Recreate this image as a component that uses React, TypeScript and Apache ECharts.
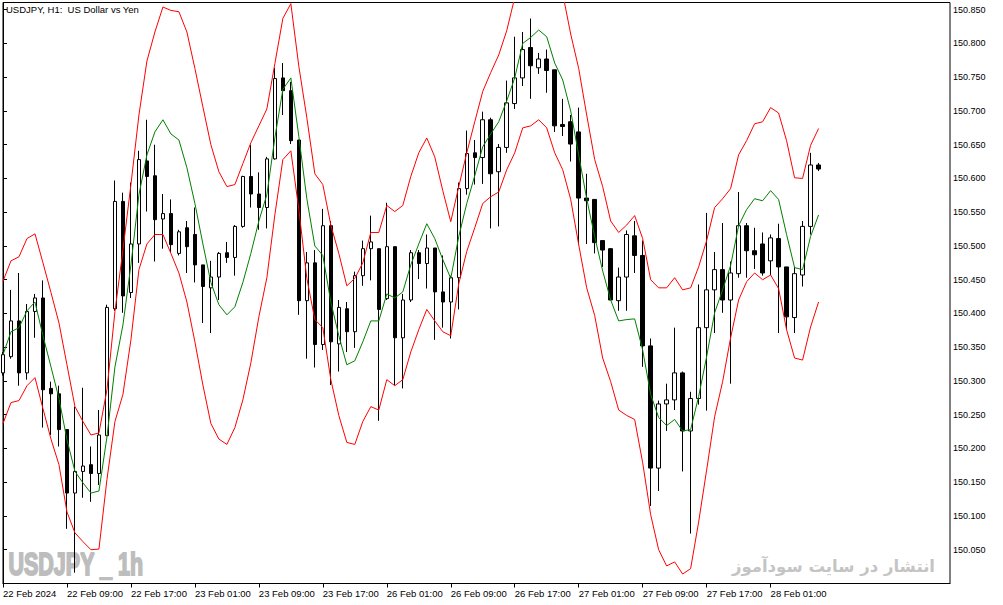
import React, { useEffect, useRef } from "react";
import * as echarts from "echarts";

// USDJPY H1, one row per hour bar: [open, close, low, high]
const candles: [number, number, number, number][] = [
  [150.312, 150.339, 150.308, 150.343],
  [150.336, 150.389, 150.333, 150.435],
  [150.389, 150.312, 150.293, 150.46],
  [150.312, 150.403, 150.302, 150.414],
  [150.403, 150.423, 150.364, 150.429],
  [150.423, 150.287, 150.231, 150.449],
  [150.289, 150.281, 150.22, 150.299],
  [150.281, 150.228, 150.203, 150.293],
  [150.228, 150.134, 150.081, 150.228],
  [150.134, 150.166, 150.016, 150.262],
  [150.166, 150.174, 150.127, 150.29],
  [150.176, 150.163, 150.121, 150.203],
  [150.163, 150.22, 150.146, 150.257],
  [150.219, 150.409, 150.219, 150.413],
  [150.407, 150.566, 150.404, 150.597],
  [150.566, 150.426, 150.401, 150.579],
  [150.431, 150.503, 150.423, 150.594],
  [150.503, 150.628, 150.475, 150.641],
  [150.626, 150.603, 150.551, 150.687],
  [150.604, 150.539, 150.477, 150.65],
  [150.54, 150.548, 150.496, 150.577],
  [150.548, 150.502, 150.491, 150.569],
  [150.489, 150.521, 150.486, 150.524],
  [150.527, 150.499, 150.46, 150.537],
  [150.517, 150.472, 150.446, 150.557],
  [150.472, 150.44, 150.386, 150.472],
  [150.438, 150.454, 150.371, 150.478],
  [150.454, 150.489, 150.42, 150.491],
  [150.49, 150.483, 150.475, 150.506],
  [150.483, 150.529, 150.456, 150.531],
  [150.529, 150.603, 150.527, 150.604],
  [150.603, 150.577, 150.557, 150.65],
  [150.577, 150.557, 150.524, 150.609],
  [150.557, 150.629, 150.526, 150.632],
  [150.629, 150.748, 150.628, 150.764],
  [150.749, 150.73, 150.694, 150.771],
  [150.73, 150.656, 150.651, 150.743],
  [150.657, 150.419, 150.398, 150.657],
  [150.419, 150.475, 150.333, 150.491],
  [150.475, 150.354, 150.32, 150.494],
  [150.354, 150.53, 150.346, 150.555],
  [150.53, 150.358, 150.294, 150.537],
  [150.355, 150.409, 150.314, 150.42],
  [150.407, 150.373, 150.343, 150.417],
  [150.373, 150.456, 150.349, 150.462],
  [150.456, 150.496, 150.441, 150.508],
  [150.496, 150.506, 150.449, 150.545],
  [150.496, 150.406, 150.241, 150.496],
  [150.422, 150.499, 150.42, 150.564],
  [150.499, 150.364, 150.294, 150.499],
  [150.364, 150.42, 150.289, 150.429],
  [150.42, 150.49, 150.417, 150.494],
  [150.49, 150.474, 150.451, 150.494],
  [150.474, 150.497, 150.437, 150.517],
  [150.497, 150.432, 150.361, 150.497],
  [150.432, 150.417, 150.379, 150.486],
  [150.417, 150.453, 150.363, 150.456],
  [150.453, 150.585, 150.406, 150.594],
  [150.585, 150.637, 150.576, 150.671],
  [150.638, 150.631, 150.591, 150.657],
  [150.631, 150.687, 150.592, 150.699],
  [150.687, 150.607, 150.526, 150.69],
  [150.61, 150.646, 150.529, 150.651],
  [150.646, 150.712, 150.638, 150.745],
  [150.711, 150.749, 150.703, 150.81],
  [150.749, 150.791, 150.737, 150.817],
  [150.794, 150.767, 150.718, 150.837],
  [150.764, 150.777, 150.755, 150.786],
  [150.777, 150.76, 150.727, 150.791],
  [150.761, 150.678, 150.669, 150.761],
  [150.68, 150.677, 150.663, 150.718],
  [150.684, 150.651, 150.625, 150.694],
  [150.669, 150.571, 150.502, 150.705],
  [150.571, 150.567, 150.503, 150.607],
  [150.569, 150.505, 150.489, 150.569],
  [150.508, 150.494, 150.469, 150.508],
  [150.496, 150.42, 150.42, 150.497],
  [150.419, 150.454, 150.404, 150.468],
  [150.454, 150.517, 150.404, 150.523],
  [150.515, 150.486, 150.46, 150.537],
  [150.486, 150.352, 150.321, 150.508],
  [150.352, 150.171, 150.115, 150.363],
  [150.171, 150.266, 150.137, 150.271],
  [150.266, 150.272, 150.226, 150.296],
  [150.272, 150.312, 150.257, 150.379],
  [150.312, 150.226, 150.166, 150.314],
  [150.226, 150.274, 150.074, 150.284],
  [150.274, 150.379, 150.265, 150.443],
  [150.379, 150.435, 150.256, 150.549],
  [150.435, 150.465, 150.371, 150.491],
  [150.465, 150.42, 150.401, 150.534],
  [150.42, 150.46, 150.296, 150.477],
  [150.459, 150.53, 150.453, 150.58],
  [150.53, 150.493, 150.453, 150.534],
  [150.493, 150.487, 150.466, 150.527],
  [150.503, 150.46, 150.456, 150.52],
  [150.478, 150.512, 150.457, 150.517],
  [150.511, 150.469, 150.371, 150.533],
  [150.469, 150.395, 150.376, 150.469],
  [150.394, 150.459, 150.371, 150.469],
  [150.457, 150.529, 150.44, 150.537],
  [150.529, 150.62, 150.517, 150.638],
  [150.62, 150.614, 150.611, 150.623],
];

// indicator bands, one value per bar
const upperBand = [
  150.448, 150.478, 150.484, 150.511, 150.518, 150.475, 150.431, 150.386, 150.324, 150.262,
  150.24, 150.22, 150.223, 150.287, 150.403, 150.494, 150.591, 150.694, 150.774, 150.817,
  150.854, 150.849, 150.847, 150.817, 150.763, 150.706, 150.65, 150.61, 150.588, 150.591,
  150.622, 150.653, 150.678, 150.703, 150.77, 150.837, 150.859, 150.766, 150.69, 150.607,
  150.591, 150.531, 150.489, 150.441, 150.452, 150.475, 150.52, 150.52, 150.56, 150.551,
  150.56, 150.603, 150.638, 150.66, 150.632, 150.582, 150.536, 150.588, 150.638, 150.684,
  150.729, 150.757, 150.783, 150.819, 150.868, 150.921, 150.939, 150.951, 150.942, 150.905,
  150.874, 150.814, 150.763, 150.694, 150.628, 150.588, 150.537, 150.52, 150.531, 150.545,
  150.511, 150.45, 150.438, 150.438, 150.453, 150.435, 150.438, 150.469, 150.508, 150.557,
  150.57, 150.585, 150.635, 150.656, 150.681, 150.684, 150.705, 150.697, 150.656, 150.601,
  150.6, 150.649, 150.674,
];

const middleBand = [
  150.339, 150.373, 150.379, 150.404, 150.417, 150.367, 150.321, 150.274, 150.213, 150.166,
  150.149, 150.134, 150.137, 150.217, 150.321, 150.383, 150.472, 150.576, 150.635, 150.669,
  150.687, 150.666, 150.657, 150.616, 150.563, 150.503, 150.446, 150.413, 150.398, 150.41,
  150.446, 150.489, 150.537, 150.576, 150.66, 150.732, 150.749, 150.662, 150.57, 150.5,
  150.486, 150.417, 150.367, 150.324, 150.33, 150.358, 150.389, 150.389, 150.429, 150.423,
  150.432, 150.472, 150.503, 150.533, 150.511, 150.48, 150.452, 150.514, 150.563, 150.604,
  150.647, 150.666, 150.684, 150.715, 150.749, 150.8, 150.809, 150.82, 150.81, 150.771,
  150.746, 150.7, 150.635, 150.57, 150.514, 150.463, 150.42, 150.389, 150.391, 150.392,
  150.346, 150.28, 150.246, 150.234, 150.243, 150.226, 150.228, 150.277, 150.336, 150.401,
  150.435, 150.471, 150.53, 150.554, 150.57, 150.567, 150.582, 150.569, 150.517, 150.468,
  150.465, 150.514, 150.546,
];

const lowerBand = [
  150.237, 150.268, 150.271, 150.293, 150.305, 150.259, 150.214, 150.176, 150.106, 150.075,
  150.062, 150.05, 150.051, 150.154, 150.24, 150.28, 150.361, 150.465, 150.503, 150.517,
  150.517, 150.489, 150.46, 150.417, 150.358, 150.294, 150.237, 150.214, 150.206, 150.231,
  150.272, 150.327, 150.395, 150.453, 150.546, 150.628, 150.641, 150.554, 150.452, 150.391,
  150.379, 150.302, 150.249, 150.209, 150.206, 150.24, 150.262, 150.257, 150.302, 150.293,
  150.302, 150.343, 150.376, 150.406, 150.389, 150.373, 150.367, 150.444, 150.492, 150.527,
  150.563, 150.573, 150.58, 150.613, 150.638, 150.675, 150.678, 150.687, 150.675, 150.638,
  150.613, 150.569, 150.502, 150.438, 150.397, 150.334, 150.299, 150.257, 150.249, 150.243,
  150.179, 150.102, 150.05, 150.026, 150.032, 150.014, 150.022, 150.091, 150.168, 150.247,
  150.299, 150.364, 150.42, 150.447, 150.46, 150.45, 150.457, 150.437, 150.376, 150.334,
  150.331, 150.38, 150.417,
];

// one time label every 8 bars
const xLabels = [
  "22 Feb 2024", "22 Feb 09:00", "22 Feb 17:00", "23 Feb 01:00", "23 Feb 09:00",
  "23 Feb 17:00", "26 Feb 01:00", "26 Feb 09:00", "26 Feb 17:00", "27 Feb 01:00",
  "27 Feb 09:00", "27 Feb 17:00", "28 Feb 01:00",
];
const xTicks = xLabels.map((_, i) => i * 8);

const yTicks = [
  150.05, 150.1, 150.15, 150.2, 150.25, 150.3, 150.35, 150.4, 150.45,
  150.5, 150.55, 150.6, 150.65, 150.7, 150.75, 150.8, 150.85,
];

const FONT = "'Liberation Sans', Arial, sans-serif";

const App: React.FC = () => {
  const chartRef = useRef<HTMLDivElement>(null);

  useEffect(() => {
    document.body.style.margin = "0";
    if (!chartRef.current) return;
    const chart = echarts.init(chartRef.current, undefined, { renderer: "svg" });

    const option = {
      animation: false,
      backgroundColor: "#fff",
      grid: {
        left: 2.5,
        right: 53,
        top: 2.5,
        bottom: 21.5,
        show: true,
        borderColor: "#000",
        borderWidth: 1,
      },
      xAxis: {
        type: "value",
        min: 0,
        max: 118.4375,
        interval: 8,
        axisLine: { lineStyle: { color: "#000", width: 1 } },
        axisTick: { length: 4, lineStyle: { color: "#000" }, customValues: xTicks },
        axisLabel: {
          customValues: xTicks,
          formatter: (v: number) => xLabels[Math.round(v / 8)] ?? "",
          align: "left",
          color: "#000",
          fontSize: 9.5,
          fontFamily: FONT,
          margin: 5,
        },
        splitLine: { show: false },
      },
      yAxis: {
        type: "value",
        position: "right",
        min: 150.0,
        max: 150.8607,
        interval: 0.05,
        axisLine: { show: true, lineStyle: { color: "#000", width: 1 } },
        axisTick: { show: true, length: 4, lineStyle: { color: "#000" }, customValues: yTicks },
        axisLabel: {
          customValues: yTicks,
          formatter: (v: number) => v.toFixed(3),
          color: "#000",
          fontSize: 9,
          fontFamily: FONT,
          margin: 3,
        },
        splitLine: { show: false },
      },
      graphic: [
        {
          type: "text",
          x: 6,
          y: 4,
          style: {
            text: "USDJPY, H1:  US Dollar vs Yen",
            fontSize: 9.5,
            fontFamily: FONT,
            fill: "#000",
          },
        },
        {
          type: "text",
          x: 8.5,
          y: 564,
          scaleY: 1.5,
          style: {
            text: "USDJPY _ 1h",
            fontSize: 21.5,
            fontWeight: "bold",
            fontFamily: FONT,
            fill: "#bdbdbd",
            stroke: "#bdbdbd",
            lineWidth: 1.3,
            verticalAlign: "middle",
          },
        },
        {
          type: "text",
          x: 935,
          y: 566,
          style: {
            text: "انتشار در سایت سودآموز",
            fontSize: 16.5,
            fontWeight: "bold",
            fontFamily: "'DejaVu Sans', sans-serif",
            fill: "#c4c4c4",
            align: "right",
            verticalAlign: "middle",
          },
        },
      ],
      series: [
        {
          type: "candlestick",
          barWidth: 4,
          data: candles.map((c, i) => [i, c[0], c[1], c[2], c[3]]),
          itemStyle: {
            color: "#fff",
            color0: "#000",
            borderColor: "#000",
            borderColor0: "#000",
            borderWidth: 1,
          },
          emphasis: { disabled: true },
        },
        {
          type: "line",
          data: upperBand.map((v, i) => [i, v]),
          showSymbol: false,
          lineStyle: { color: "#ff0000", width: 1 },
          emphasis: { disabled: true },
        },
        {
          type: "line",
          data: middleBand.map((v, i) => [i, v]),
          showSymbol: false,
          lineStyle: { color: "#008000", width: 1 },
          emphasis: { disabled: true },
        },
        {
          type: "line",
          data: lowerBand.map((v, i) => [i, v]),
          showSymbol: false,
          lineStyle: { color: "#ff0000", width: 1 },
          emphasis: { disabled: true },
        },
      ],
    };

    chart.setOption(option);

    return () => {
      chart.dispose();
    };
  }, []);

  return <div ref={chartRef} style={{ width: 1003, height: 605 }} />;
};

export default App;
